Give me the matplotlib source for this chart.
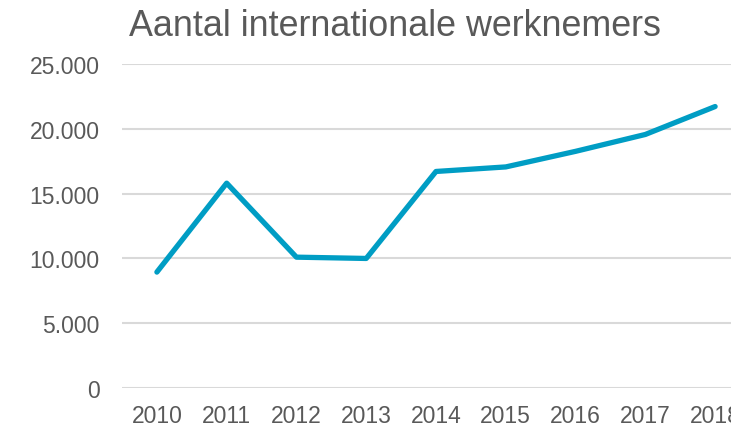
import matplotlib
matplotlib.use("Agg")
import matplotlib.pyplot as plt
from matplotlib.ticker import FuncFormatter

years = ["2010", "2011", "2012", "2013", "2014", "2015", "2016", "2017", "2018"]
werknemers = [8950, 15800, 10100, 10000, 16700, 17050, 18250, 19550, 21700]
yticks = [0, 5000, 10000, 15000, 20000, 25000]

text_color = "#595959"
line_color = "#009DC4"
grid_color = "#D9D9D9"
fam = ["Liberation Sans", "DejaVu Sans"]

fig = plt.figure(figsize=(7.31, 4.27), dpi=100)
ax = fig.add_axes([122 / 731, 1 - 389.3 / 427, (750 - 122) / 731, (389.3 - 64.7) / 427])

x = list(range(len(years)))
ax.plot(x, werknemers, color=line_color, linewidth=3.8, solid_capstyle="round", solid_joinstyle="round", zorder=3)

ax.set_xlim(-0.5, len(years) - 0.5)
ax.set_ylim(0, 25000)
ax.set_yticks(yticks)
ax.yaxis.set_major_formatter(FuncFormatter(lambda v, p: f"{int(v):,}".replace(",", ".")))
ax.set_xticks(x)
ax.set_xticklabels(years)

for s in ax.spines.values():
    s.set_visible(False)
ax.grid(axis="y", color=grid_color, linewidth=1.5, zorder=0)
ax.set_axisbelow(True)
ax.tick_params(axis="both", length=0, labelsize=16.5, labelcolor=text_color)
ax.tick_params(axis="y", pad=16)
ax.tick_params(axis="x", pad=11)
for lab in ax.get_xticklabels() + ax.get_yticklabels():
    lab.set_family(fam)

fig.text(395 / 731, 1 - 26 / 427, "Aantal internationale werknemers", ha="center", va="center",
         fontsize=25.8, color=text_color, family=fam)

fig.savefig("out.png", dpi=100)
